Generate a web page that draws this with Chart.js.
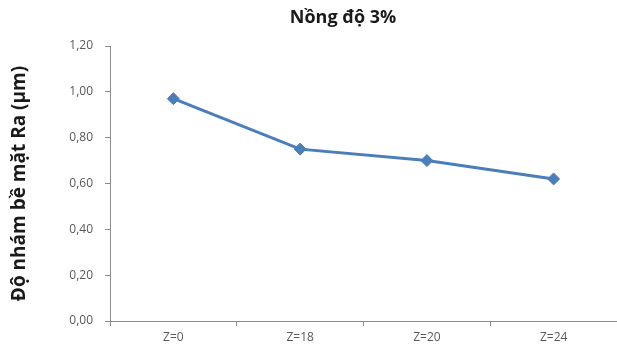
<!DOCTYPE html>
<html>
<head>
<meta charset="utf-8">
<script src="https://cdn.jsdelivr.net/npm/chart.js@4"></script>
<style>
  html, body { margin: 0; padding: 0; background: #ffffff; }
  #wrap { width: 617px; height: 354px; position: relative; }
</style>
</head>
<body>
<div id="wrap"><canvas id="chart"></canvas></div>
<script>
// Surface roughness Ra (µm) at 3% concentration
const categories = ['Z=0', 'Z=18', 'Z=20', 'Z=24'];
const raValues = [0.97, 0.75, 0.70, 0.62];
const yTicks = [0, 0.2, 0.4, 0.6, 0.8, 1.0, 1.2];

const chartTitle = 'Nồng độ 3%';
const yAxisTitle = 'Độ nhám bề mặt Ra (µm)';

const axisColor = '#8c8c8c';
const labelColor = '#595959';
const lineColor = '#4a7ebb';

// Title drawn above the plot, slightly left of the plot centre
const titlePlugin = {
  id: 'topTitle',
  afterDraw(chart) {
    const ctx = chart.ctx;
    ctx.save();
    ctx.font = 'bold 18px "Open Sans", sans-serif';
    ctx.fillStyle = '#1a1a1a';
    ctx.textAlign = 'center';
    ctx.textBaseline = 'middle';
    ctx.fillText(chartTitle, 343, 18);
    ctx.restore();
  }
};

new Chart(document.getElementById('chart'), {
  type: 'line',
  data: {
    labels: categories,
    datasets: [{
      data: raValues,
      borderColor: lineColor,
      backgroundColor: lineColor,
      borderWidth: 3,
      tension: 0,
      pointStyle: 'rectRot',
      pointRadius: 6,
      pointHoverRadius: 6,
      pointBackgroundColor: lineColor,
      pointBorderColor: lineColor,
      pointBorderWidth: 1
    }]
  },
  options: {
    responsive: true,
    maintainAspectRatio: false,
    animation: false,
    layout: { autoPadding: false, padding: { top: 46, right: 0, bottom: 0, left: 0 } },
    plugins: {
      legend: { display: false },
      tooltip: { enabled: false },
      title: { display: false }
    },
    scales: {
      x: {
        type: 'category',
        offset: true,
        grid: {
          display: true,
          offset: true,
          drawOnChartArea: false,
          drawTicks: true,
          tickLength: 5,
          color: axisColor
        },
        border: { display: true, color: axisColor, width: 1 },
        ticks: {
          color: labelColor,
          font: { family: '"Open Sans", sans-serif', size: 12 },
          padding: 4,
          maxRotation: 0
        },
        afterFit(scale) { scale.height = 33; }
      },
      y: {
        min: 0,
        max: 1.2,
        afterBuildTicks(scale) {
          scale.ticks = yTicks.map(v => ({ value: v }));
        },
        grid: {
          display: true,
          drawOnChartArea: false,
          drawTicks: true,
          tickLength: 5,
          color: axisColor
        },
        border: { display: true, color: axisColor, width: 1 },
        ticks: {
          color: labelColor,
          font: { family: '"Open Sans", sans-serif', size: 12 },
          padding: 12,
          callback: v => Number(v).toFixed(2).replace('.', ',')
        },
        title: {
          display: true,
          text: yAxisTitle,
          color: '#1a1a1a',
          font: { family: '"Open Sans", sans-serif', size: 19, weight: 'bold' },
          padding: { top: 8, bottom: 0 }
        },
        afterFit(scale) { scale.width = 110; }
      }
    }
  },
  plugins: [titlePlugin]
});
</script>
</body>
</html>
